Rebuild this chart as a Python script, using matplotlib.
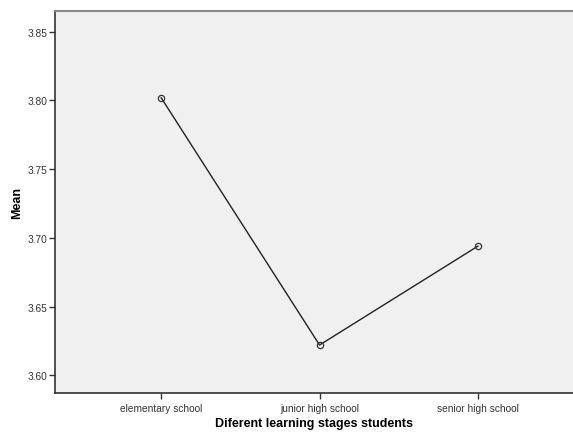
import matplotlib.pyplot as plt

stages = ['elementary school', 'junior high school', 'senior high school']
means = [3.802, 3.622, 3.694]
yticks = [3.60, 3.65, 3.70, 3.75, 3.80, 3.85]

plt.rcParams['font.family'] = ['Liberation Sans', 'DejaVu Sans']

fig = plt.figure(figsize=(5.73, 4.35), dpi=100)
ax = fig.add_axes([0.096, 0.094, 0.904, 0.878])
ax.set_facecolor('#f0f0f0')

x = list(range(len(stages)))
ax.plot(x, means, color='#222222', linewidth=1.0, marker='o', markersize=4.5,
        markerfacecolor='none', markeredgecolor='#333333', markeredgewidth=0.9)

ax.set_xlim(-0.67, 2.6)
ax.set_ylim(3.587, 3.865)
ax.set_xticks(x)
ax.set_xticklabels(stages)
ax.set_yticks(yticks)
ax.set_yticklabels(['%.2f' % v for v in yticks])
ax.tick_params(labelsize=7.3, colors='#333333', length=4, width=1, direction='out')
ax.tick_params(axis='x', pad=3)
ax.tick_params(axis='y', pad=1.5)

for side in ['left', 'bottom']:
    ax.spines[side].set_color('#333333')
    ax.spines[side].set_linewidth(1.2)
ax.spines['top'].set_color('#888888')
ax.spines['top'].set_linewidth(1.5)
ax.spines['right'].set_visible(False)

ax.set_xlabel('Diferent learning stages students', fontsize=9, fontweight='bold', labelpad=3)
ax.set_ylabel('Mean', fontsize=9, fontweight='bold', labelpad=3)

fig.savefig('out.png', dpi=100)
